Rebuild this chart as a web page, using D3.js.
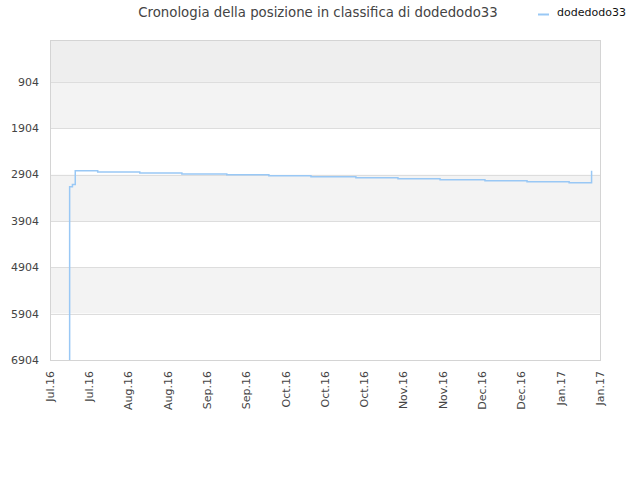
<!DOCTYPE html>
<html>
<head>
<meta charset="utf-8">
<script src="https://cdn.jsdelivr.net/npm/d3@7"></script>
<style>
  body { margin: 0; background: #fff; }
  text { font-family: "DejaVu Sans", sans-serif; }
</style>
</head>
<body>
<div id="chart"></div>
<script>
// rank history: date where the rank changed and the new rank (lower = better, drawn at top)
var dates = ["2016-07-17","2016-07-17","2016-07-18","2016-07-19",
  "2016-07-27","2016-08-11","2016-08-26","2016-09-11","2016-09-26",
  "2016-10-11","2016-10-27","2016-11-11","2016-11-26","2016-12-12","2016-12-27",
  "2017-01-11","2017-01-19"];
var ranks = [6904,3166,3118,2820,
  2849,2870,2892,2907,2928,
  2950,2971,2993,3015,3036,3058,
  3079,2820];
var yTicks = [904,1904,2904,3904,4904,5904,6904];
var xStart = "2016-07-10", xEnd = "2017-01-22";
var seriesName = "dodedodo33";
var title = "Cronologia della posizione in classifica di dodedodo33";

var width = 640, height = 480;
var pLeft = 50, pRight = 600, pTop = 40, pBottom = 360;
var parse = d3.timeParse("%Y-%m-%d");

var svg = d3.select("#chart").append("svg")
  .attr("width", width)
  .attr("height", height);

var x = d3.scaleTime()
  .domain([parse(xStart), parse(xEnd)])
  .range([pLeft, pRight]);

var y = d3.scaleLinear()
  .domain([0, d3.max(yTicks)])
  .range([pTop, pBottom]);

// background bands
var edges = [0].concat(yTicks);
for (let i = 0; i < edges.length - 1; i++) {
  svg.append("rect")
    .attr("x", pLeft)
    .attr("y", y(edges[i]))
    .attr("width", pRight - pLeft)
    .attr("height", y(edges[i+1]) - y(edges[i]))
    .attr("fill", i == 0 ? "#eeeeee" : (i % 2 == 1 ? "#f3f3f3" : "#ffffff"));
}

// grid lines
svg.selectAll(".grid")
  .data(yTicks)
  .enter()
  .append("line")
  .attr("x1", pLeft).attr("x2", pRight)
  .attr("y1", d => Math.round(y(d)) + 0.5)
  .attr("y2", d => Math.round(y(d)) + 0.5)
  .attr("stroke", "#dddddd");

// frame
svg.append("rect")
  .attr("x", pLeft + 0.5).attr("y", pTop + 0.5)
  .attr("width", pRight - pLeft).attr("height", pBottom - pTop)
  .attr("fill", "none")
  .attr("stroke", "#d4d4d4");

// y axis labels
svg.selectAll(".ylab")
  .data(yTicks)
  .enter()
  .append("text")
  .attr("x", 39)
  .attr("y", d => y(d))
  .attr("dy", "0.35em")
  .attr("text-anchor", "end")
  .attr("font-size", 11)
  .attr("fill", "#444")
  .text(d => d);

// x axis labels, every 14 days
var xTickVals = d3.range(0, 15).map(k => d3.timeDay.offset(parse(xStart), k * 14));
var fmt = d3.timeFormat("%b.%y");
svg.selectAll(".xlab")
  .data(xTickVals)
  .enter()
  .append("text")
  .attr("transform", d => "translate(" + x(d) + ",371) rotate(-90)")
  .attr("dy", "0.35em")
  .attr("text-anchor", "end")
  .attr("font-size", 11)
  .attr("fill", "#444")
  .text(d => fmt(d));

// line
var pts = dates.map((d, i) => ({date: parse(d), rank: ranks[i]}));
var line = d3.line()
  .curve(d3.curveStepAfter)
  .x(d => x(d.date))
  .y(d => y(d.rank));

svg.append("path")
  .datum(pts)
  .attr("d", line)
  .attr("fill", "none")
  .attr("stroke", "#99c8f5")
  .attr("stroke-width", 1.5);

// title
svg.append("text")
  .attr("x", 318)
  .attr("y", 17)
  .attr("text-anchor", "middle")
  .attr("font-size", 13.3)
  .attr("fill", "#444")
  .text(title);

// legend
svg.append("line")
  .attr("x1", 538).attr("x2", 549)
  .attr("y1", 14.5).attr("y2", 14.5)
  .attr("stroke", "#99c8f5")
  .attr("stroke-width", 2);
svg.append("text")
  .attr("x", 557)
  .attr("y", 16)
  .attr("font-size", 11)
  .attr("fill", "#111")
  .text(seriesName);
</script>
</body>
</html>
